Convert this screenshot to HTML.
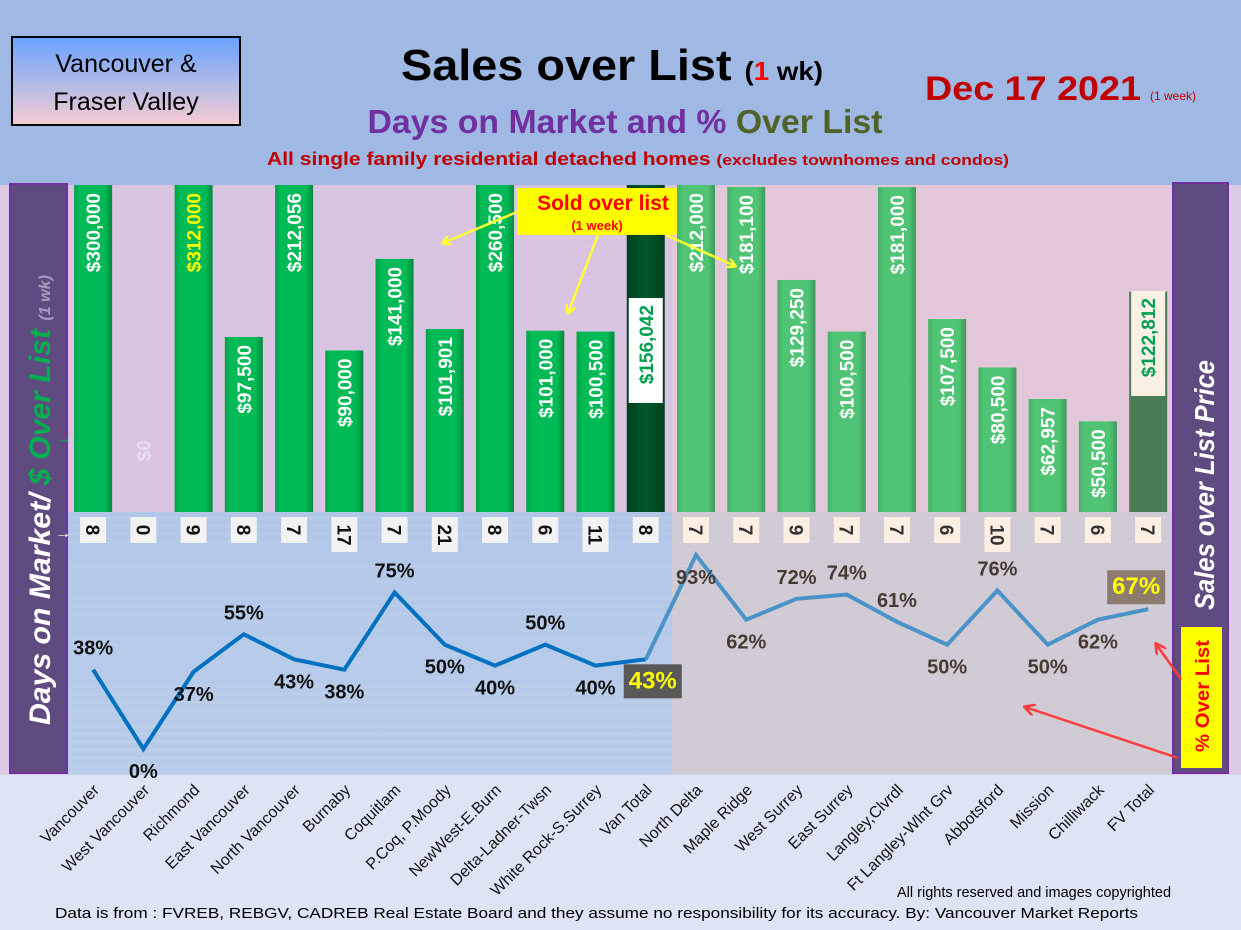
<!DOCTYPE html>
<html><head><meta charset="utf-8">
<style>
body{margin:0;width:1241px;height:930px;overflow:hidden;font-family:"Liberation Sans",sans-serif;}
svg{display:block}
</style></head>
<body>
<svg id="chart" width="1241" height="930" xmlns="http://www.w3.org/2000/svg">
<defs>
<linearGradient id="boxg" x1="0" y1="0" x2="0" y2="1"><stop offset="0" stop-color="#66a3ff"/><stop offset="1" stop-color="#f7cdd2"/></linearGradient>
<linearGradient id="lowL" x1="0" y1="0" x2="0" y2="1"><stop offset="0" stop-color="#b2c6e8"/><stop offset="1" stop-color="#b9cdea"/></linearGradient>
<linearGradient id="barL" x1="0" y1="0" x2="1" y2="0"><stop offset="0" stop-color="#01a046"/><stop offset="0.15" stop-color="#00bb55"/><stop offset="0.8" stop-color="#00bb55"/><stop offset="1" stop-color="#028a3e"/></linearGradient>
<linearGradient id="barR" x1="0" y1="0" x2="1" y2="0"><stop offset="0" stop-color="#47b068"/><stop offset="0.15" stop-color="#50c475"/><stop offset="0.8" stop-color="#50c475"/><stop offset="1" stop-color="#3e9a5a"/></linearGradient>
<linearGradient id="barV" x1="0" y1="0" x2="1" y2="0"><stop offset="0" stop-color="#013d1e"/><stop offset="0.5" stop-color="#005a2b"/><stop offset="1" stop-color="#013d1e"/></linearGradient>
<clipPath id="plotclip"><rect x="68" y="185" width="1105" height="590"/></clipPath>
<marker id="ay" markerWidth="10" markerHeight="10" refX="8" refY="5" orient="auto" markerUnits="userSpaceOnUse"><path d="M0,0 L9,5 L0,10" fill="none" stroke="#ffff33" stroke-width="2.5"/></marker>
<marker id="ar" markerWidth="12" markerHeight="12" refX="10" refY="6" orient="auto" markerUnits="userSpaceOnUse"><path d="M0,0 L11,6 L0,12" fill="none" stroke="#ff3b3b" stroke-width="2.5"/></marker>
</defs>
<rect x="0" y="0" width="1241" height="930" fill="#dde5f4"/>
<rect x="0" y="0" width="1241" height="185" fill="#9fb8e4"/>
<rect x="0" y="185" width="1241" height="590" fill="#dccbe6"/>
<rect x="68" y="185" width="604" height="327" fill="#d8c4e0"/>
<rect x="68" y="512" width="604" height="263" fill="url(#lowL)"/>
<rect x="672" y="185" width="501" height="327" fill="#e2c6d9"/>
<rect x="672" y="512" width="501" height="263" fill="#d0cad5"/>
<g id="grid"></g>

<g>
<rect x="12" y="37" width="228" height="88" fill="url(#boxg)" stroke="#000" stroke-width="2"/>
<text x="126" y="72" text-anchor="middle" font-size="25">Vancouver &amp;</text>
<text x="126" y="110" text-anchor="middle" font-size="25">Fraser Valley</text>
</g>
<text x="612" y="80" text-anchor="middle" font-size="44" font-weight="bold" textLength="422" lengthAdjust="spacingAndGlyphs">Sales over List <tspan font-size="26">(<tspan fill="#ff0000">1</tspan> wk)</tspan></text>
<text x="625" y="133" text-anchor="middle" font-size="33" font-weight="bold" fill="#7030a0" textLength="515" lengthAdjust="spacingAndGlyphs">Days on Market and % <tspan fill="#4f6228">Over List</tspan></text>
<text x="638" y="165" text-anchor="middle" font-size="18" font-weight="bold" fill="#c00000" textLength="742" lengthAdjust="spacingAndGlyphs">All single family residential detached homes <tspan font-size="15">(excludes townhomes and condos)</tspan></text>
<text x="925" y="100" font-size="34" font-weight="bold" fill="#c00000" textLength="216" lengthAdjust="spacingAndGlyphs">Dec 17  2021</text>
<text x="1150" y="100" font-size="12" fill="#c00000">(1 week)</text>

<g id="bars" clip-path="url(#plotclip)"></g>
<g id="barlabels"></g>
<g id="doms"></g>
<g id="line"></g>
<g id="xlabels"></g>

<g>
<rect x="10" y="184" width="57" height="589" fill="#5f4b7f" stroke="#7030a0" stroke-width="2"/>
<text transform="translate(50,725) rotate(-90)" font-size="30" font-weight="bold" font-style="italic" fill="#fff" textLength="450" lengthAdjust="spacingAndGlyphs">Days on Market/ <tspan fill="#00b050">$ Over List</tspan> <tspan font-size="16" fill="#a99cc0">(1 wk)</tspan></text>
</g>
<g>
<rect x="1173" y="183" width="55" height="590" fill="#5f4b7f" stroke="#7030a0" stroke-width="2"/>
<text transform="translate(1214,610) rotate(-90)" font-size="28" font-weight="bold" font-style="italic" fill="#fff" textLength="250" lengthAdjust="spacingAndGlyphs">Sales over List Price</text>
<rect x="1181" y="627" width="41" height="141" fill="#ffff00"/>
<text transform="translate(1209,752) rotate(-90)" font-size="19" font-weight="bold" fill="#ff0000" textLength="112" lengthAdjust="spacingAndGlyphs">% Over List</text>
</g>
<g>
<rect x="517" y="188" width="160" height="47" fill="#ffff00"/>
<text x="603" y="210" text-anchor="middle" font-size="21" font-weight="bold" fill="#ff0000">Sold over list</text>
<text x="597" y="230" text-anchor="middle" font-size="13" font-weight="bold" fill="#ff0000">(1 week)</text>
<line x1="517" y1="212" x2="443" y2="243" stroke="#ffff33" stroke-width="2.5" marker-end="url(#ay)"/>
<line x1="598" y1="235" x2="568" y2="313" stroke="#ffff33" stroke-width="2.5" marker-end="url(#ay)"/>
<line x1="666" y1="235" x2="735" y2="266" stroke="#ffff33" stroke-width="2.5" marker-end="url(#ay)"/>
</g>
<g>
<line x1="1181" y1="679" x2="1156" y2="644" stroke="#ff3b3b" stroke-width="2.5" marker-end="url(#ar)"/>
<line x1="1178" y1="758" x2="1025" y2="707" stroke="#ff3b3b" stroke-width="2.5" marker-end="url(#ar)"/>
</g>
<text x="897" y="897" font-size="14.5">All rights reserved and  images copyrighted</text>
<text x="55" y="918" font-size="14.5" textLength="1083" lengthAdjust="spacingAndGlyphs">Data is from : FVREB, REBGV, CADREB Real Estate Board and they assume no responsibility for its accuracy. By: Vancouver Market Reports</text>
<text x="55" y="443" font-size="16" fill="#00b050" font-weight="bold">→</text>
<text x="55" y="538" font-size="16" fill="#fff" font-weight="bold">→</text>
</svg>
<script>
const categories=["Vancouver","West Vancouver","Richmond","East Vancouver","North Vancouver","Burnaby","Coquitlam","P.Coq, P.Moody","NewWest-E.Burn","Delta-Ladner-Twsn","White Rock-S.Surrey","Van Total","North Delta","Maple Ridge","West Surrey","East Surrey","Langley,Clvrdl","Ft Langley-Wlnt Grv","Abbotsford","Mission","Chilliwack","FV Total"];
const overList=[300000,0,312000,97500,212056,90000,141000,101901,260500,101000,100500,156042,212000,181100,129250,100500,181000,107500,80500,62957,50500,122812];
const priceLabels=["$300,000","$0","$312,000","$97,500","$212,056","$90,000","$141,000","$101,901","$260,500","$101,000","$100,500","$156,042","$212,000","$181,100","$129,250","$100,500","$181,000","$107,500","$80,500","$62,957","$50,500","$122,812"];
const daysOnMarket=[8,0,9,8,7,17,7,21,8,6,11,8,7,7,9,7,7,6,10,7,6,7];
const pctOverList=[38,0,37,55,43,38,75,50,40,50,40,43,93,62,72,74,61,50,76,50,62,67];
const pctLabelSide=["a","b","b","a","b","b","a","b","b","a","b","b","b","b","a","a","a","b","a","b","b","a"];
const NS="http://www.w3.org/2000/svg";
function mk(tag,attrs,parent,txt){const e=document.createElementNS(NS,tag);for(const k in attrs)e.setAttribute(k,attrs[k]);if(txt!==undefined)e.textContent=txt;parent.appendChild(e);return e;}
const X0=68,STEP=50.24,BASE=512,TOP=185;
function xc(i){return X0+STEP*(i+0.5);}
function yBar(v){return BASE-v*0.001795;}
function yPct(p){return 749-p*2.086;}
const grid=document.getElementById('grid');
for(let y=190;y<775;y+=8){const l=mk('line',{x1:68,x2:1173,y1:y,y2:y,stroke:'#ffffff','stroke-opacity':0.12},grid);

}
const bars=document.getElementById('bars'),bl=document.getElementById('barlabels'),doms=document.getElementById('doms'),lg=document.getElementById('line'),xl=document.getElementById('xlabels');
categories.forEach((c,i)=>{
  const cx=xc(i),v=overList[i];
  let top=Math.max(yBar(v),TOP-5);
  if(i===11)top=TOP-5;
  let fill=i<11?'url(#barL)':(i===11?'url(#barV)':(i===21?'#4a7c55':'url(#barR)'));
  if(v>0){const r=mk('rect',{x:cx-19,y:top,width:38,height:BASE-top,fill:fill},bars);
  
  }
  const ly=Math.max(yBar(v),TOP)+8;
  let col='#ffffff';if(i===2)col='#ffff00';if(i===1)col='#e6dcf0';
  let lyy=i===1?440:ly;
  if(i===11||i===21){
    lyy=i===11?305:298;
    const bx=mk('rect',{x:cx-17,y:lyy-7,width:34,height:105,fill:i===11?'#ffffff':'#fbf0e4'},bl);
    
    
    col='#00a050';
  }
  const t=mk('text',{transform:`translate(${cx+7},${lyy}) rotate(-90)`,'text-anchor':'end','font-size':19,'font-weight':'bold',fill:col},bl,priceLabels[i]);
  
  
  const d=daysOnMarket[i],two=String(d).length>1;
  const b=mk('rect',{x:cx-13,y:517,width:26,height:two?35:26,fill:i<12?'#f2f2f2':'#fbefe3'},doms);
  
  
  const dt=mk('text',{transform:`translate(${cx-7},${two?535:530}) rotate(90)`,'text-anchor':'middle','font-size':19,'font-weight':'bold',fill:i<12?'#111':'#333'},doms,String(d));
  
  
  const xt=mk('text',{transform:`translate(${cx+7},${791}) rotate(-45)`,'text-anchor':'end','font-size':16,fill:'#111'},xl,c);
  
  
});
let d1='',d2='';
pctOverList.forEach((p,i)=>{const s=xc(i).toFixed(1)+','+yPct(p).toFixed(1);
  if(i<=11)d1+=(i?'L':'M')+s; if(i>=11)d2+=(i===11?'M':'L')+s;});
const p1=mk('path',{d:d1,fill:'none',stroke:'#0070c0','stroke-width':4,'stroke-linejoin':'miter'},lg);


const p2=mk('path',{d:d2,fill:'none',stroke:'#4a93c8','stroke-width':4},lg);


pctOverList.forEach((p,i)=>{
  const cx=xc(i),y=yPct(p),ty=pctLabelSide[i]==='a'?y-15:y+29;
  const special=(i===11||i===21);
  const tx=i===11?cx+7:(i===21?cx-12:cx);
  if(special){const r=mk('rect',{x:tx-29,y:ty-24,width:58,height:34,fill:i===11?'#595959':'#8c7b6e'},lg);
  
  }
  const t=mk('text',{x:tx,y:ty,'text-anchor':'middle','font-size':special?24:20,'font-weight':'bold',fill:special?'#ffff00':(i<11?'#111':'#463a32')},lg,p+'%');
  
  
});
</script>
</body></html>
